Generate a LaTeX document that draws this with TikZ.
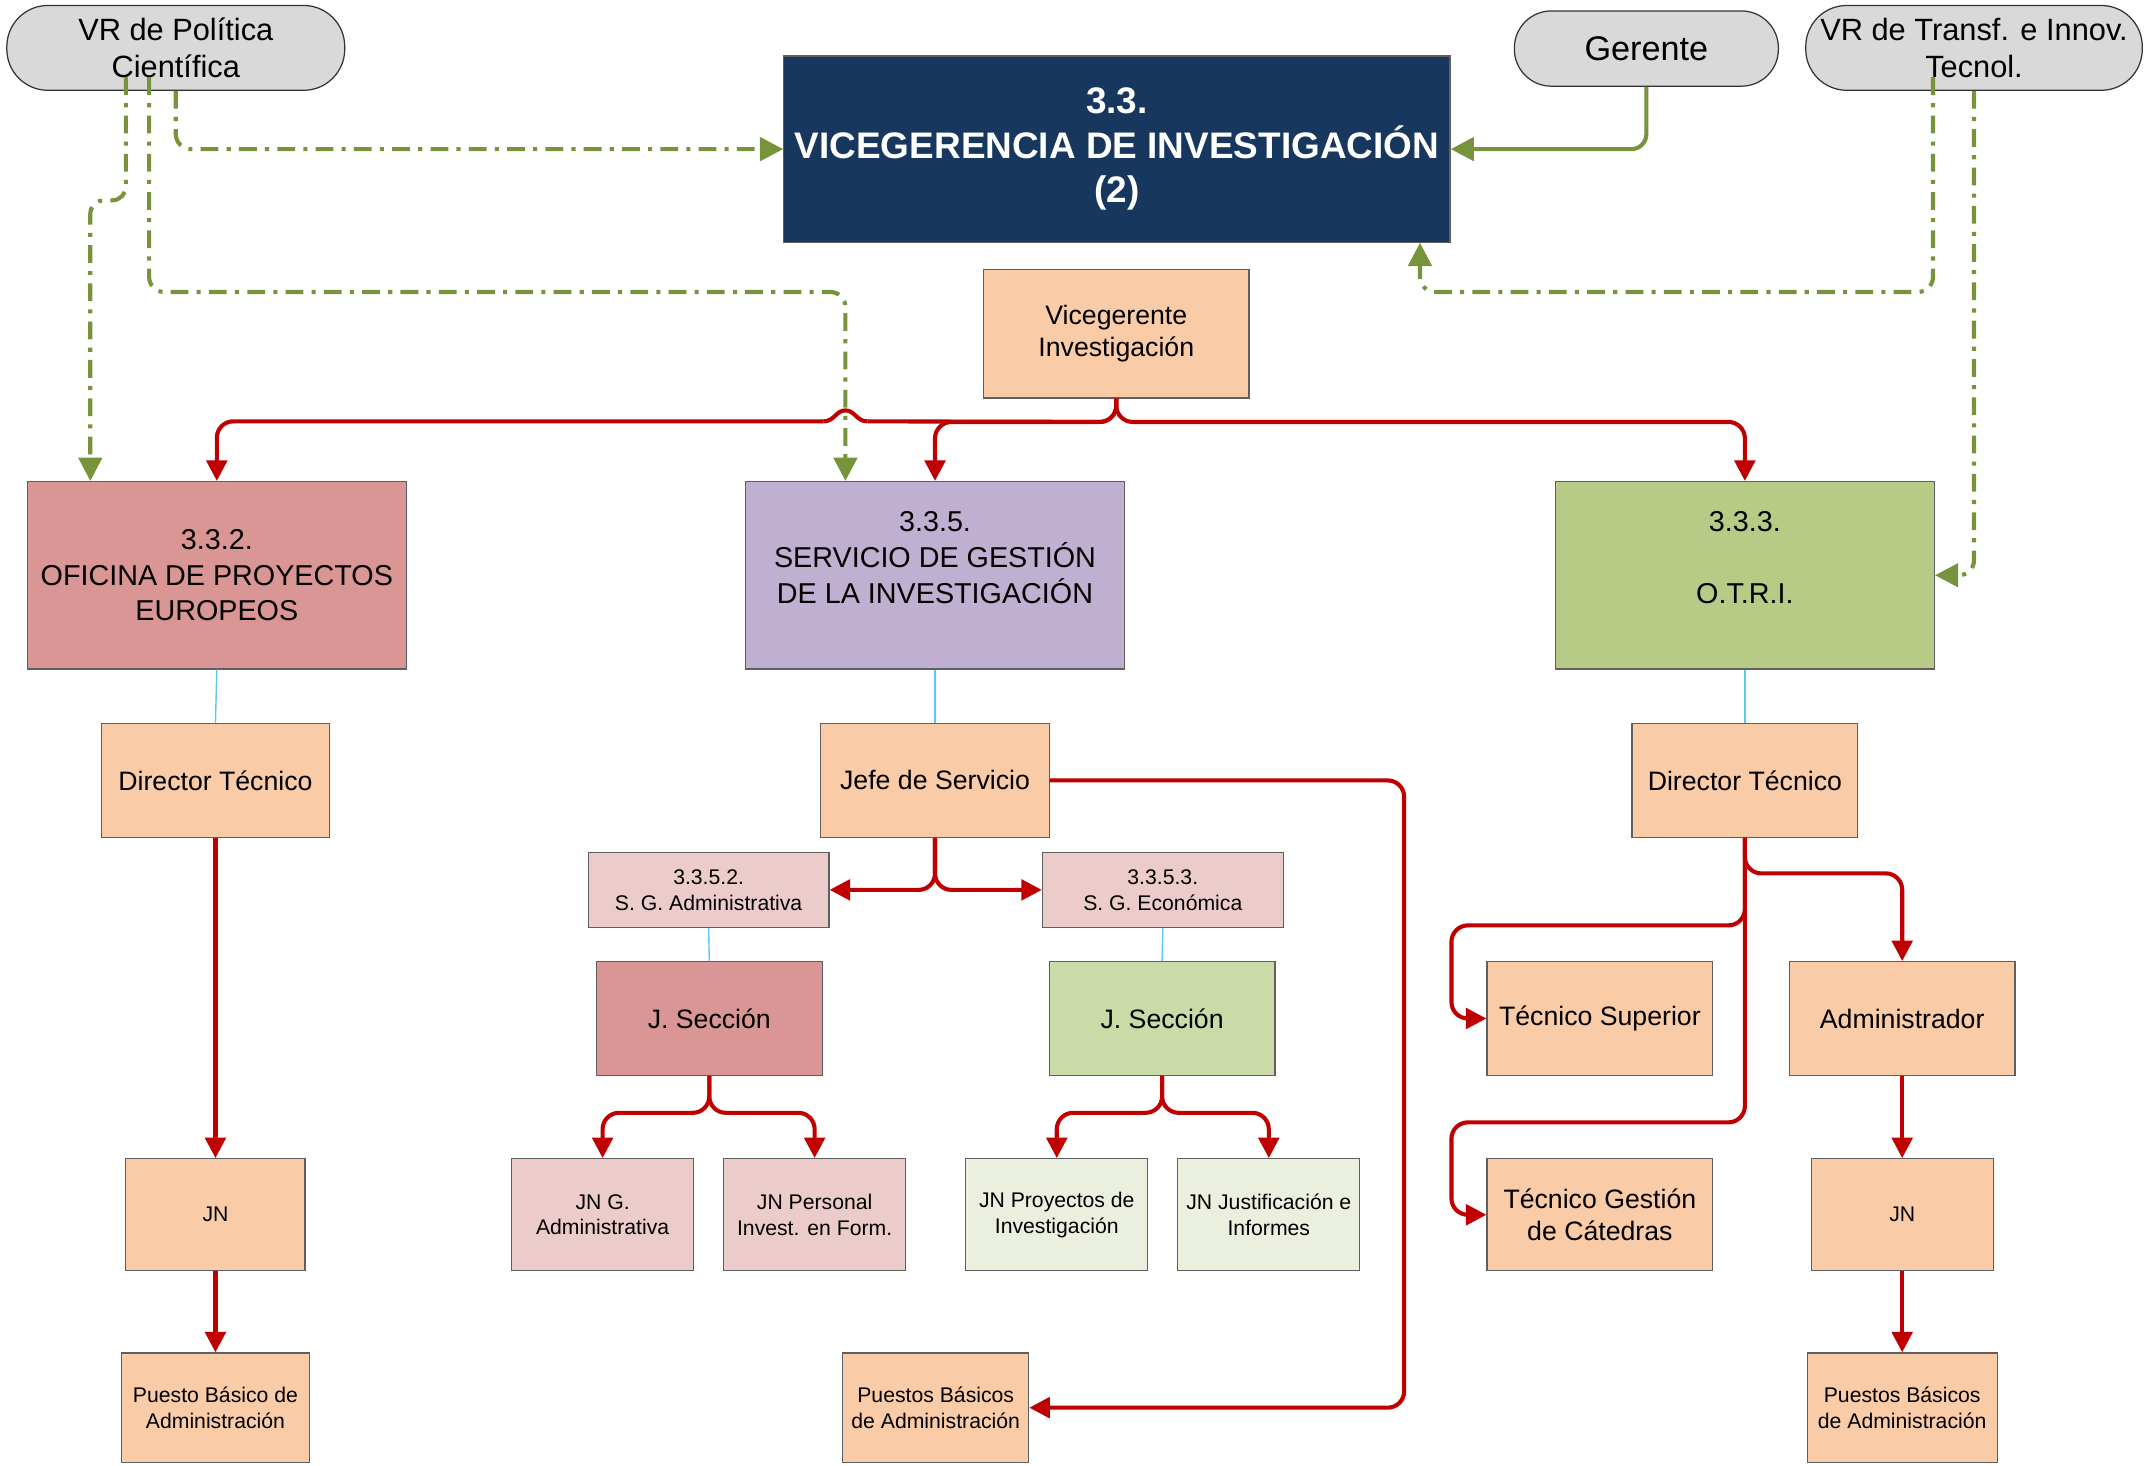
\documentclass[tikz,border=0pt]{standalone}
\usepackage{fontspec}
\setmainfont{Liberation Sans}
\usetikzlibrary{arrows.meta}
\definecolor{navy}{HTML}{17375E}
\definecolor{peach}{HTML}{F9CBA7}
\definecolor{rosebox}{HTML}{D99694}
\definecolor{lav}{HTML}{BFB0D1}
\definecolor{olivebox}{HTML}{B7CB86}
\definecolor{pinklt}{HTML}{ECCCCB}
\definecolor{greenmid}{HTML}{CADBA8}
\definecolor{greenlt}{HTML}{EBF0DE}
\definecolor{grayfill}{HTML}{D9D9D9}
\definecolor{boxline}{HTML}{5F5F5F}
\definecolor{redline}{HTML}{C00000}
\definecolor{greenline}{HTML}{77933C}
\definecolor{cyanline}{HTML}{5CC8F2}
\newcommand\fsmall{\fontsize{15.5}{18.8}\selectfont}
\newcommand\fmid{\fontsize{19.5}{23.5}\selectfont}
\newcommand\fbig{\fontsize{21}{26}\selectfont}
\newcommand\fvr{\fontsize{22.5}{27}\selectfont}
\newcommand\fger{\fontsize{25}{30}\selectfont}
\newcommand\fvice{\fontsize{27}{32.5}\selectfont\bfseries}
\begin{document}
\begin{tikzpicture}[x=1pt,y=-1pt,
  box/.style={draw=boxline, line width=0.9pt, align=center, inner sep=0pt, text=black},
  sz/.style 2 args={minimum width=#1, minimum height=#2},
  pill/.style={box, draw=black!80, fill=grayfill, rounded corners=30pt},
  redplain/.style={draw=redline, line width=3pt, rounded corners=12pt},
  redarrow/.style={redplain, -{Triangle[length=15pt,width=15pt]}},
  grnarrow/.style={draw=greenline, line width=3pt, rounded corners=11pt, -{Triangle[length=17pt,width=17pt]}},
  dashdot/.style={dash pattern=on 13pt off 6pt on 3pt off 6pt},
  thin/.style={draw=cyanline, line width=1pt}
]
\useasboundingbox (0,0) rectangle (1568,1071);

% top row
\node[pill, sz={247pt}{62pt}, font=\fvr] (vrp) at (128.5,35) {VR de Política\\Científica};
\node[pill, sz={193pt}{55pt}, font=\fger, rounded corners=27pt] (ger) at (1203.5,35.5) {Gerente};
\node[pill, sz={246pt}{62pt}, font=\fvr] (vrt) at (1443,35) {VR de Transf. e Innov.\\Tecnol.};
\node[box, fill=navy, text=white, sz={487pt}{136pt}, font=\fvice] (vice) at (816.5,109) {3.3.\\VICEGERENCIA DE INVESTIGACIÓN\\(2)};
\node[box, fill=peach, sz={194pt}{94pt}, font=\fmid] (vg) at (816,244) {Vicegerente\\Investigación};

% level 2
\node[box, fill=rosebox, sz={277pt}{137pt}, font=\fbig] (ope) at (158.5,420.5) {3.3.2.\\OFICINA DE PROYECTOS\\EUROPEOS};
\node[box, fill=lav, sz={277pt}{137pt}, font=\fbig] (sgi) at (683.5,420.5) {3.3.5.\\SERVICIO DE GESTIÓN\\DE LA INVESTIGACIÓN\\~};
\node[box, fill=olivebox, sz={277pt}{137pt}, font=\fbig] (otri) at (1275.5,420.5) {3.3.3.\\~\\O.T.R.I.\\~};

% level 3
\node[box, fill=peach, sz={167pt}{83pt}, font=\fmid] (dt1) at (157.5,570.5) {Director Técnico};
\node[box, fill=peach, sz={167pt}{83pt}, font=\fmid] (jefe) at (683.5,570.5) {Jefe de Servicio};
\node[box, fill=peach, sz={165pt}{83pt}, font=\fmid] (dt2) at (1275.5,570.5) {Director Técnico};

% sections
\node[box, fill=pinklt, sz={176pt}{55pt}, font=\fsmall] (sg2) at (518,650.5) {3.3.5.2.\\S. G. Administrativa};
\node[box, fill=pinklt, sz={176pt}{55pt}, font=\fsmall] (sg3) at (850,650.5) {3.3.5.3.\\S. G. Económica};
\node[box, fill=rosebox, sz={165pt}{83pt}, font=\fmid] (js1) at (518.5,744.5) {J. Sección};
\node[box, fill=greenmid, sz={165pt}{83pt}, font=\fmid] (js2) at (849.5,744.5) {J. Sección};

\node[box, fill=pinklt, sz={133pt}{82pt}, font=\fsmall] (jn1a) at (440.5,888) {JN G.\\Administrativa};
\node[box, fill=pinklt, sz={133pt}{82pt}, font=\fsmall] (jn1b) at (595.5,888) {JN Personal\\Invest. en Form.};
\node[box, fill=greenlt, sz={133pt}{82pt}, font=\fsmall] (jn2a) at (772.5,888) {JN Proyectos de\\Investigación};
\node[box, fill=greenlt, sz={133pt}{82pt}, font=\fsmall] (jn2b) at (927.5,888) {JN Justificación e\\Informes};

% left column
\node[box, fill=peach, sz={131pt}{82pt}, font=\fsmall] (jnl) at (157.5,888) {JN};
\node[box, fill=peach, sz={137pt}{80pt}, font=\fsmall] (pbl) at (157.5,1029) {Puesto Básico de\\Administración};
\node[box, fill=peach, sz={136pt}{80pt}, font=\fsmall] (pbm) at (684,1029) {Puestos Básicos\\de Administración};

% right column
\node[box, fill=peach, sz={165pt}{83pt}, font=\fmid] (ts) at (1169.5,744.5) {Técnico Superior};
\node[box, fill=peach, sz={165pt}{83pt}, font=\fmid] (adm) at (1390.5,744.5) {Administrador};
\node[box, fill=peach, sz={165pt}{82pt}, font=\fmid] (tg) at (1169.5,888) {Técnico Gestión\\de Cátedras};
\node[box, fill=peach, sz={133pt}{82pt}, font=\fsmall] (jnr) at (1390.5,888) {JN};
\node[box, fill=peach, sz={139pt}{80pt}, font=\fsmall] (pbr) at (1390.5,1029) {Puestos Básicos\\de Administración};

% thin links
\draw[thin] (ope.south) -- (dt1.north);
\draw[thin] (sgi.south) -- (jefe.north);
\draw[thin] (otri.south) -- (dt2.north);
\draw[thin] (sg2.south) -- (js1.north);
\draw[thin] (sg3.south) -- (js2.north);

% green links
\draw[grnarrow] (ger.south) |- (vice.east);
\draw[grnarrow, dashdot] (vrp.south) |- (vice.west);
\draw[grnarrow, dashdot, rounded corners=10pt] ([shift={(-36.5,-10)}]vrp.south) -- ++(0,90) -| ([xshift=-92.5pt]ope.north);
\draw[grnarrow, dashdot] ([shift={(-19.5,-10)}]vrp.south) -- ++(0,157) -| ([xshift=-65.5pt]sgi.north);
\draw[grnarrow, dashdot] ([shift={(-30,-10)}]vrt.south) -- ++(0,157) -| ([xshift=221.5pt]vice.south);
\draw[grnarrow, dashdot] (vrt.south) |- (otri.east);

% red links
\coordinate (hopR) at (634,308);
\coordinate (hopL) at (602,308);
\draw[redplain] (vg.south) -- ++(0,17) -- (hopR);
\draw[draw=redline, line width=3pt] (hopR) .. controls (626,308) and (625,300) .. (618,300) .. controls (611,300) and (610,308) .. (hopL);
\draw[redarrow] (hopL) -| (ope.north);
\draw[redarrow] (vg.south) -- ++(0,17) -| (sgi.north);
\draw[redarrow] (vg.south) -- ++(0,17) -| (otri.north);

\draw[redarrow] (jefe.east) -- ++(259,0) |- (pbm.east);
\draw[redarrow] (jefe.south) |- (sg2.east);
\draw[redarrow] (jefe.south) |- (sg3.west);

\draw[redarrow] (js1.south) -- ++(0,27) -| (jn1a.north);
\draw[redarrow] (js1.south) -- ++(0,27) -| (jn1b.north);
\draw[redarrow] (js2.south) -- ++(0,27) -| (jn2a.north);
\draw[redarrow] (js2.south) -- ++(0,27) -| (jn2b.north);

\draw[redarrow] (dt1.south) -- (jnl.north);
\draw[redarrow] (jnl.south) -- (pbl.north);

\draw[redarrow] (dt2.south) -- ++(0,26) -| (adm.north);
\draw[redarrow] (dt2.south) -- ++(0,64) -- ++(-214.5,0) |- (ts.west);
\draw[redarrow] (dt2.south) -- ++(0,208) -- ++(-214.5,0) |- (tg.west);
\draw[redarrow] (adm.south) -- (jnr.north);
\draw[redarrow] (jnr.south) -- (pbr.north);
\end{tikzpicture}
\end{document}
